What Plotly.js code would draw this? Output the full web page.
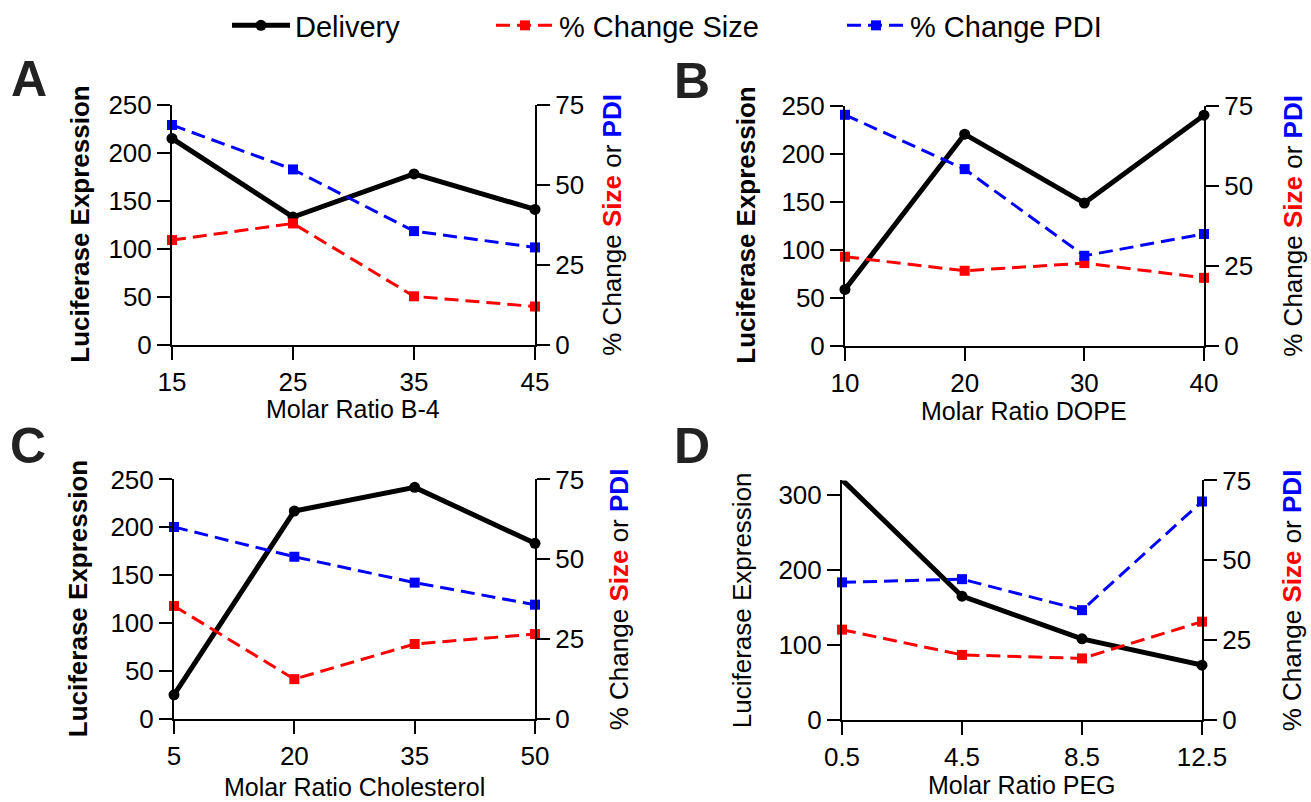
<!DOCTYPE html>
<html>
<head>
<meta charset="utf-8">
<script src="https://cdn.plot.ly/plotly-3.0.1.min.js"></script>
<style>html,body{margin:0;padding:0;background:#fff;}#chart{width:1311px;height:802px;}</style>
</head>
<body>
<div id="chart"></div>
<script>
// ---- data ----
const xA = [15, 25, 35, 45];
const deliveryA = [215, 133, 178, 141];
const sizeA = [32.7, 37.9, 15.1, 11.9];
const pdiA = [68.7, 54.8, 35.5, 30.4];

const xB = [10, 20, 30, 40];
const deliveryB = [58.6, 220.5, 148.6, 240.3];
const sizeB = [27.8, 23.4, 25.8, 21.2];
const pdiB = [72.2, 55.2, 28.1, 34.9];

const xC = [5, 20, 35, 50];
const deliveryC = [25.3, 217, 241.7, 183.3];
const sizeC = [35.4, 12.5, 23.5, 26.6];
const pdiC = [60.1, 50.8, 42.7, 35.8];

const xD = [0.5, 4.5, 8.5, 12.5];
const xDLabels = ['0.5', '4.5', '8.5', '12.5'];
const deliveryD = [320, 164.9, 108.1, 73.1];
const sizeD = [28.3, 20.4, 19.3, 30.8];
const pdiD = [43.1, 44.1, 34.4, 68.4];

const panelLetters = ['A', 'B', 'C', 'D'];
const xTitles = ['Molar Ratio B-4', 'Molar Ratio DOPE', 'Molar Ratio Cholesterol', 'Molar Ratio PEG'];
const seriesNames = ['Delivery', '% Change Size', '% Change PDI'];

// ---- styling ----
const W = 1311, H = 802;
const FONT = 'Liberation Sans, Arial, Helvetica, sans-serif';
const px = v => v / W;
const py = v => 1 - v / H;

const panels = [
  {x: xA, d: deliveryA, s: sizeA, p: pdiA, xd: [172, 535], yd: [344, 104], yl: [0, 250], ydt: 50, xl: null},
  {x: xB, d: deliveryB, s: sizeB, p: pdiB, xd: [845, 1204], yd: [345, 105], yl: [0, 250], ydt: 50, xl: null},
  {x: xC, d: deliveryC, s: sizeC, p: pdiC, xd: [174, 535], yd: [719, 479], yl: [0, 250], ydt: 50, xl: null},
  {x: xD, d: deliveryD, s: sizeD, p: pdiD, xd: [842, 1202], yd: [720, 480], yl: [0, 319], ydt: 100, xl: xDLabels}
];
const letterPos = [[29, 78], [692, 80], [28, 446], [692, 446]];
const xTitlePos = [[353, 409], [1024, 411], [354, 787], [1022, 785]];
const leftTitlePos = [80, 746, 78, 742];
const rightTitlePos = [612, 1293, 619, 1292];
const leftBold = [true, true, true, false];

const traces = [];
const layout = {
  width: W, height: H,
  margin: {l: 0, r: 0, t: 0, b: 0},
  paper_bgcolor: '#fff', plot_bgcolor: 'rgba(0,0,0,0)',
  font: {family: FONT, size: 26, color: '#000'},
  annotations: [],
  showlegend: true
};

const baseAxis = {
  showgrid: false, zeroline: false, showline: true, linecolor: '#000', linewidth: 2,
  ticks: 'outside', ticklen: 13, tickwidth: 2, tickcolor: '#000',
  tickfont: {family: FONT, size: 26, color: '#000'}, fixedrange: true
};

panels.forEach((pn, i) => {
  const xi = i + 1;
  const yl = 2 * i + 1, yr = 2 * i + 2;
  const xname = 'x' + (xi === 1 ? '' : xi);
  const ylname = 'y' + (yl === 1 ? '' : yl);
  const yrname = 'y' + yr;
  const xkey = 'xaxis' + (xi === 1 ? '' : xi);
  const ylkey = 'yaxis' + (yl === 1 ? '' : yl);
  const yrkey = 'yaxis' + yr;

  layout[xkey] = Object.assign({}, baseAxis, {
    domain: [px(pn.xd[0]), px(pn.xd[1])], anchor: ylname,
    range: [pn.x[0], pn.x[pn.x.length - 1]],
    tickmode: 'array', tickvals: pn.x, ticktext: pn.xl ? pn.xl : pn.x.map(String)
  });
  layout[ylkey] = Object.assign({}, baseAxis, {
    domain: [py(pn.yd[0]), py(pn.yd[1])], anchor: xname,
    range: pn.yl, tickmode: 'linear', tick0: 0, dtick: pn.ydt
  });
  layout[yrkey] = Object.assign({}, baseAxis, {
    overlaying: ylname, side: 'right', anchor: xname,
    range: [0, 75], tickmode: 'linear', tick0: 0, dtick: 25
  });

  const show = i === 0;
  traces.push({
    x: pn.x, y: pn.d, xaxis: xname, yaxis: ylname, type: 'scatter', mode: 'lines+markers',
    name: seriesNames[0], showlegend: show, legend: 'legend', cliponaxis: false,
    line: {color: '#000', width: 5}, marker: {symbol: 'circle', size: 11, color: '#000'}
  });
  traces.push({
    x: pn.x, y: pn.s, xaxis: xname, yaxis: yrname, type: 'scatter', mode: 'lines+markers',
    name: seriesNames[1], showlegend: show, legend: 'legend2', cliponaxis: false,
    line: {color: '#ff0000', width: 3, dash: '14px,7px'}, marker: {symbol: 'square', size: 10, color: '#ff0000'}
  });
  traces.push({
    x: pn.x, y: pn.p, xaxis: xname, yaxis: yrname, type: 'scatter', mode: 'lines+markers',
    name: seriesNames[2], showlegend: show, legend: 'legend3', cliponaxis: false,
    line: {color: '#0000ff', width: 3, dash: '14px,7px'}, marker: {symbol: 'square', size: 10, color: '#0000ff'}
  });

  const yc = (pn.yd[0] + pn.yd[1]) / 2;
  // panel letter
  layout.annotations.push({
    xref: 'paper', yref: 'paper', x: px(letterPos[i][0]), y: py(letterPos[i][1]),
    xanchor: 'center', yanchor: 'middle', showarrow: false,
    text: '<b>' + panelLetters[i] + '</b>', font: {family: FONT, size: 50, color: '#222'}
  });
  // x title
  layout.annotations.push({
    xref: 'paper', yref: 'paper', x: px(xTitlePos[i][0]), y: py(xTitlePos[i][1]),
    xanchor: 'center', yanchor: 'middle', showarrow: false,
    text: xTitles[i], font: {family: FONT, size: 25, color: '#000'}
  });
  // left y title
  layout.annotations.push({
    xref: 'paper', yref: 'paper', x: px(leftTitlePos[i]), y: py(yc),
    xanchor: 'center', yanchor: 'middle', showarrow: false, textangle: -90,
    text: leftBold[i] ? '<b>Luciferase Expression</b>' : 'Luciferase Expression',
    font: {family: FONT, size: 26, color: '#000'}
  });
  // right y title
  layout.annotations.push({
    xref: 'paper', yref: 'paper', x: px(rightTitlePos[i]), y: py(yc),
    xanchor: 'center', yanchor: 'middle', showarrow: false, textangle: -90,
    text: '% Change <b><span style="color:#ff0000">Size</span></b> or <b><span style="color:#0000ff">PDI</span></b>',
    font: {family: FONT, size: 26, color: '#000'}
  });
});

const legBase = {orientation: 'h', yanchor: 'middle', xanchor: 'left', bgcolor: 'rgba(0,0,0,0)',
  borderwidth: 0, font: {family: FONT, size: 29, color: '#000'}, itemwidth: 58, y: py(25)};
layout.legend = Object.assign({}, legBase, {x: px(227)});
layout.legend2 = Object.assign({}, legBase, {x: px(491)});
layout.legend3 = Object.assign({}, legBase, {x: px(842)});

Plotly.newPlot('chart', traces, layout, {displayModeBar: false, staticPlot: true});
</script>
</body>
</html>
